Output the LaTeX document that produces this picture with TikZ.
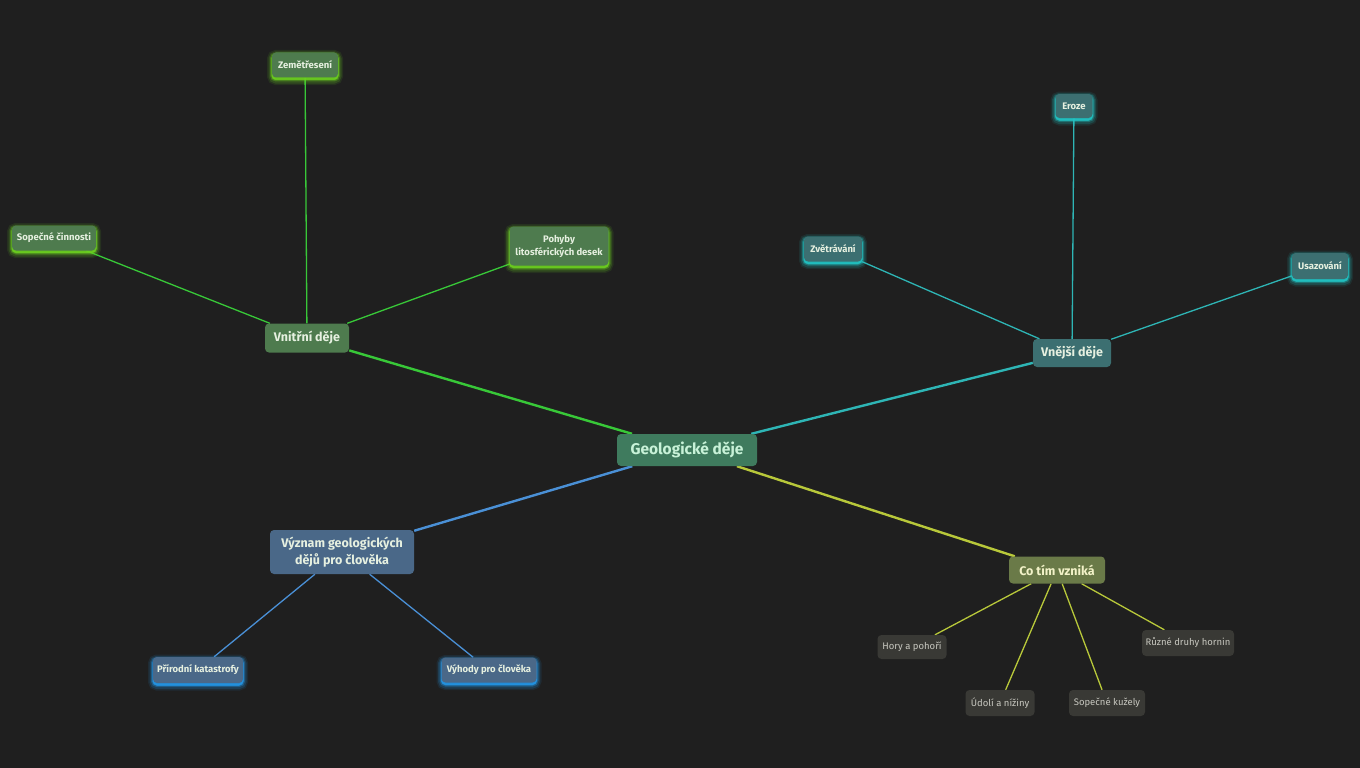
\documentclass[tikz,border=0pt]{standalone}
\usepackage{fontspec}
\setmainfont{Fira Sans}
\usetikzlibrary{backgrounds}
\definecolor{bg}{HTML}{1F1F1F}
\definecolor{rootfill}{HTML}{3F7B5E}
\definecolor{roottext}{HTML}{C8F2D8}
\definecolor{gfill}{HTML}{4E7B4E}
\definecolor{gedge}{HTML}{38C838}
\definecolor{gglow}{HTML}{6CD020}
\definecolor{tfill}{HTML}{3C6F71}
\definecolor{tedge}{HTML}{2EB5B5}
\definecolor{tglow}{HTML}{22C4C4}
\definecolor{bfill}{HTML}{4A6888}
\definecolor{bedge}{HTML}{4A90D6}
\definecolor{bglow}{HTML}{2496E6}
\definecolor{yfill}{HTML}{6A7A48}
\definecolor{yedge}{HTML}{B8C83A}
\definecolor{ytext}{HTML}{F2F2C8}
\definecolor{dfill}{HTML}{393935}
\definecolor{dtext}{HTML}{C8C8C0}
\definecolor{ltext}{HTML}{E6F0E0}
\tikzset{
  base/.style={rounded corners=4pt, align=center, inner sep=2pt},
  rootbox/.style={base, fill=rootfill, text=roottext, font=\fontsize{15.5}{18}\selectfont\bfseries, minimum width=140pt, minimum height=32pt},
  branchbox/.style={base, font=\fontsize{12.5}{15}\selectfont\bfseries},
  leafbox/.style={base, font=\fontsize{9.5}{13}\selectfont\bfseries, text=ltext},
  glow/.style={preaction={draw=#1, fill=#1, line width=10pt, draw opacity=0.1, fill opacity=0.1, transform canvas={yshift=-2.5pt}},
               preaction={draw=#1, fill=#1, line width=7pt, draw opacity=0.18, fill opacity=0.18, transform canvas={yshift=-2.5pt}},
               preaction={draw=#1, fill=#1, line width=4pt, draw opacity=0.35, fill opacity=0.35, transform canvas={yshift=-2pt}},
               preaction={draw=#1, fill=#1, line width=1.5pt, draw opacity=0.7, fill opacity=0.7, transform canvas={yshift=-2pt}}},
  gleaf/.style={leafbox, fill=gfill, glow=gglow},
  tleaf/.style={leafbox, fill=tfill, glow=tglow},
  bleaf/.style={leafbox, fill=bfill, glow=bglow},
  dleaf/.style={base, fill=dfill, text=dtext, font=\fontsize{9.5}{12}\selectfont, minimum height=25pt},
  trunk/.style={line width=2.4pt},
  twig/.style={line width=1.3pt},
}
\begin{document}
\begin{tikzpicture}[x=1pt,y=-1pt]
\useasboundingbox (0,0) rectangle (1360,768);

\node[rootbox] (root) at (687,450) {Geologické děje};

\node[branchbox, fill=gfill, text=ltext, minimum width=84pt, minimum height=29pt] (vn) at (307,338) {Vnitřní děje};
\node[gleaf, minimum width=66pt, minimum height=25pt] (zem) at (305,65) {Zemětřesení};
\node[gleaf, minimum width=84pt, minimum height=25pt] (sop) at (54,238) {Sopečné činnosti};
\node[gleaf, minimum width=99pt, minimum height=39pt] (poh) at (559,246) {Pohyby\\litosférických desek};

\node[branchbox, fill=tfill, text=ltext, minimum width=78pt, minimum height=28pt] (ve) at (1072,353) {Vnější děje};
\node[tleaf, minimum width=37pt, minimum height=24pt] (ero) at (1074,106) {Eroze};
\node[tleaf, minimum width=58pt, minimum height=25pt] (zve) at (833,249) {Zvětrávání};
\node[tleaf, minimum width=56pt, minimum height=26pt] (usa) at (1320,266) {Usazování};

\node[branchbox, fill=bfill, text=ltext, minimum width=144pt, minimum height=44pt, font=\fontsize{12.5}{17}\selectfont\bfseries] (vy) at (342,552) {Význam geologických\\dějů pro člověka};
\node[bleaf, minimum width=90pt, minimum height=26pt] (pri) at (198,670) {Přírodní katastrofy};
\node[bleaf, minimum width=95pt, minimum height=25pt] (vyh) at (489,670) {Výhody pro člověka};

\node[branchbox, fill=yfill, text=ytext, minimum width=96pt, minimum height=27pt] (co) at (1057,570) {Co tím vzniká};
\node[dleaf, minimum width=69pt, minimum height=24pt] (hor) at (912,647) {Hory a pohoří};
\node[dleaf, minimum width=69pt, minimum height=26pt] (udo) at (1000,703) {Údolí a nížiny};
\node[dleaf, minimum width=76pt, minimum height=26pt] (kuz) at (1107,703) {Sopečné kužely};
\node[dleaf, minimum width=92pt, minimum height=26pt] (hrn) at (1188,643) {Různé druhy hornin};

\begin{scope}[on background layer]
\fill[bg] (0,0) rectangle (1360,768);
\draw[gedge, trunk] (root) -- (vn);
\draw[tedge, trunk] (root) -- (ve);
\draw[bedge, trunk] (root) -- (vy);
\draw[yedge, trunk] (root) -- (co);
\draw[gedge, twig] (vn) -- (zem);
\draw[gedge, twig] (vn) -- (sop);
\draw[gedge, twig] (vn) -- (poh);
\draw[tedge, twig] (ve) -- (ero);
\draw[tedge, twig] (ve) -- (zve);
\draw[tedge, twig] (ve) -- (usa);
\draw[bedge, twig] (vy) -- (pri);
\draw[bedge, twig] (vy) -- (vyh);
\draw[yedge, twig] (co) -- (hor);
\draw[yedge, twig] (co) -- (udo);
\draw[yedge, twig] (co) -- (kuz);
\draw[yedge, twig] (co) -- (hrn);
\end{scope}
\end{tikzpicture}
\end{document}
